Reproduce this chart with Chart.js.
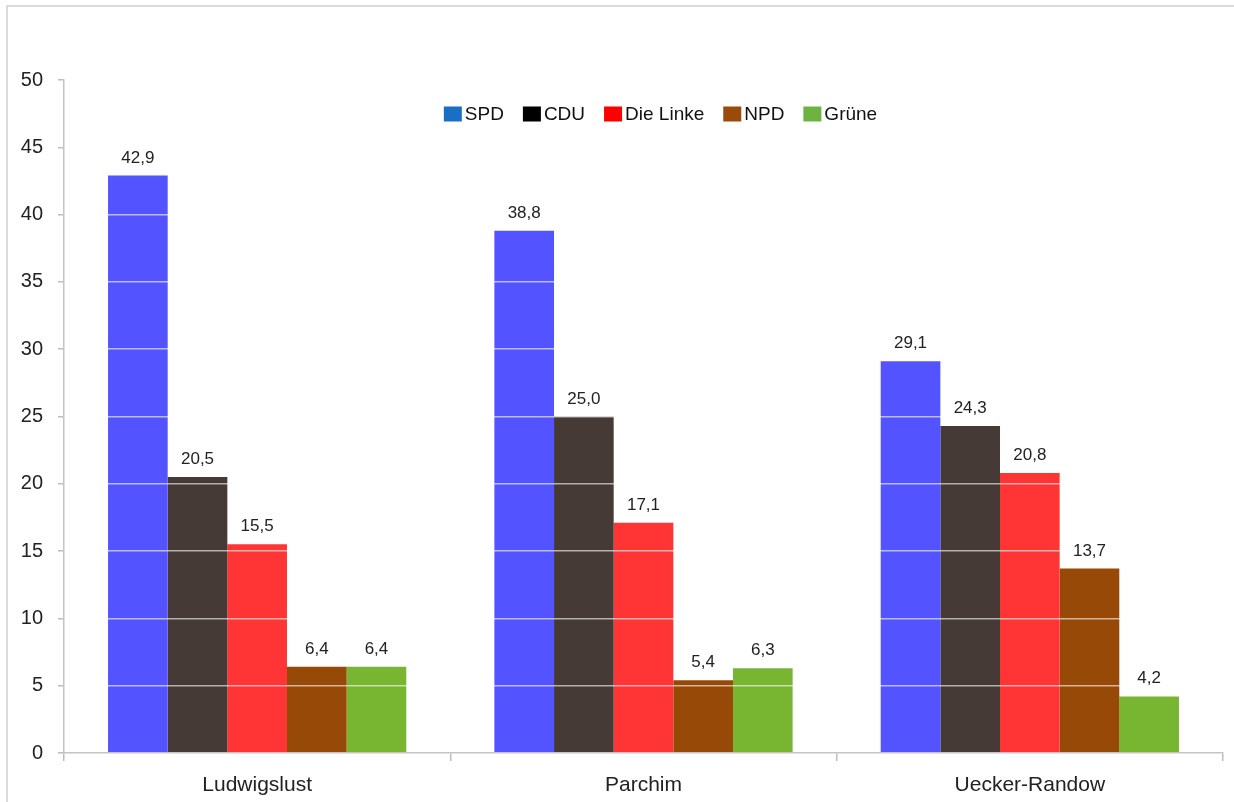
<!DOCTYPE html>
<html>
<head>
<meta charset="utf-8">
<script src="https://cdn.jsdelivr.net/npm/chart.js@4.4.1/dist/chart.umd.min.js"></script>
<style>
  html, body { margin: 0; padding: 0; background: #fff; }
  #wrap { position: relative; width: 1234px; height: 802px; }
</style>
</head>
<body>
<div id="wrap"><canvas id="chart" width="1234" height="802"></canvas></div>
<script>
// Kreise
const districts = ['Ludwigslust', 'Parchim', 'Uecker-Randow'];

// Stimmenanteile in Prozent
const spd = [42.9, 38.8, 29.1];
const cdu = [20.5, 25.0, 24.3];
const linke = [15.5, 17.1, 20.8];
const npd = [6.4, 5.4, 13.7];
const gruene = [6.4, 6.3, 4.2];

const yTicks = [0, 5, 10, 15, 20, 25, 30, 35, 40, 45, 50];

const parties = [
  { label: 'SPD', data: spd, bar: '#5353ff', key: '#1a6fc4' },
  { label: 'CDU', data: cdu, bar: '#463a37', key: '#000000' },
  { label: 'Die Linke', data: linke, bar: '#ff3434', key: '#ff0000' },
  { label: 'NPD', data: npd, bar: '#974a07', key: '#9a4a0b' },
  { label: 'Grüne', data: gruene, bar: '#78b531', key: '#6db33f' },
];

const FONT = "'Liberation Sans', Arial, sans-serif";

// frame around the picture
const framePlugin = {
  id: 'frame',
  beforeDraw: (chart) => {
    const { ctx } = chart;
    ctx.save();
    ctx.strokeStyle = '#cfcfcf';
    ctx.lineWidth = 1.5;
    ctx.beginPath();
    ctx.moveTo(7, 802);
    ctx.lineTo(7, 6);
    ctx.lineTo(1234, 6);
    ctx.stroke();
    ctx.restore();
  },
};

// horizontal legend sitting inside the plot area
const innerLegend = {
  id: 'innerLegend',
  afterDraw: (chart) => {
    const { ctx, chartArea } = chart;
    const boxW = 18;
    const boxH = 15;
    const gap = 3;
    const itemGap = 19;
    ctx.save();
    ctx.font = `19px ${FONT}`;
    ctx.textBaseline = 'middle';
    const widths = chart.data.datasets.map((ds) => boxW + gap + ctx.measureText(ds.label).width);
    const total = widths.reduce((a, b) => a + b, 0) + itemGap * (widths.length - 1);
    let x = chartArea.left + (chartArea.right - chartArea.left) / 2 + 17 - total / 2;
    const cy = chartArea.top + 34;
    chart.data.datasets.forEach((ds, i) => {
      ctx.fillStyle = parties[i].key;
      ctx.fillRect(x, cy - boxH / 2, boxW, boxH);
      ctx.fillStyle = '#111';
      ctx.fillText(ds.label, x + boxW + gap, cy + 1);
      x += widths[i] + itemGap;
    });
    ctx.restore();
  },
};

// value labels above bars, german decimal comma
const valueLabels = {
  id: 'valueLabels',
  afterDraw: (chart) => {
    const { ctx } = chart;
    ctx.save();
    ctx.font = `17px ${FONT}`;
    ctx.fillStyle = '#222';
    ctx.textAlign = 'center';
    ctx.textBaseline = 'alphabetic';
    chart.data.datasets.forEach((ds, i) => {
      chart.getDatasetMeta(i).data.forEach((bar, j) => {
        ctx.fillText(ds.data[j].toFixed(1).replace('.', ','), bar.x, bar.y - 13);
      });
    });
    ctx.restore();
  },
};

new Chart(document.getElementById('chart'), {
  type: 'bar',
  data: {
    labels: districts,
    datasets: parties.map((p) => ({
      label: p.label,
      data: p.data,
      backgroundColor: p.bar,
      borderWidth: 0,
      categoryPercentage: 0.772,
      barPercentage: 1,
    })),
  },
  options: {
    responsive: false,
    animation: false,
    layout: { padding: { top: 80, right: 11, bottom: 0, left: 0 } },
    scales: {
      y: {
        min: 0,
        max: 50,
        afterBuildTicks: (scale) => { scale.ticks = yTicks.map((v) => ({ value: v })); },
        afterFit: (scale) => { scale.width = 64; },
        ticks: { color: '#222', font: { family: FONT, size: 20 }, padding: 15 },
        grid: {
          z: 1,
          color: (c) => (c.tick && c.tick.value === 0 ? 'rgba(0,0,0,0)' : 'rgba(255,255,255,0.6)'),
          tickColor: '#bdbdbd',
          tickLength: 6,
          lineWidth: 1.5,
        },
        border: { display: true, color: '#c4c4c4', width: 1.5, z: 2 },
      },
      x: {
        afterFit: (scale) => { scale.height = 49; },
        ticks: { color: '#222', font: { family: FONT, size: 21 }, padding: 12 },
        grid: {
          drawOnChartArea: false,
          tickColor: '#bdbdbd',
          tickLength: 8,
          lineWidth: 1.5,
          offset: true,
        },
        border: { color: '#c4c4c4', width: 1.5, z: 2 },
      },
    },
    plugins: {
      legend: { display: false },
      tooltip: { enabled: false },
    },
  },
  plugins: [framePlugin, innerLegend, valueLabels],
});
</script>
</body>
</html>
